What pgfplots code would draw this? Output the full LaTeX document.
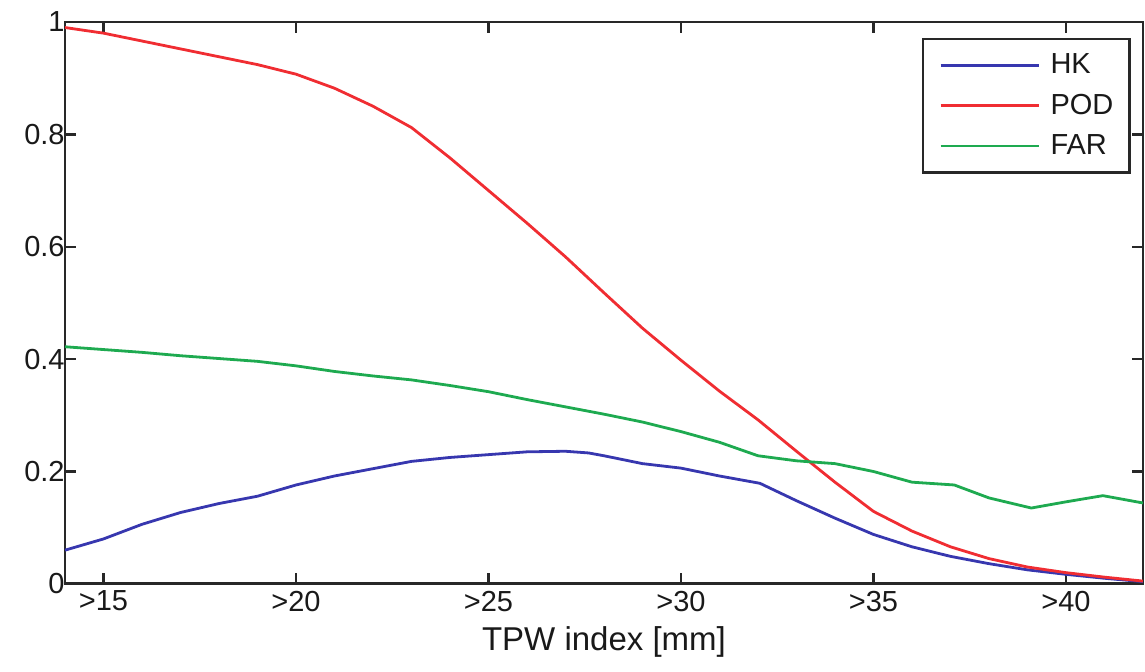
\documentclass[border=0pt]{standalone}
\usepackage{fontspec}
\setmainfont{Liberation Sans}
\usepackage{pgfplots}
\pgfplotsset{compat=1.18}
\definecolor{hkblue}{RGB}{55,55,175}
\definecolor{podred}{RGB}{240,45,50}
\definecolor{fargreen}{RGB}{30,170,80}
\definecolor{axgray}{RGB}{40,40,40}
\begin{document}
\begin{tikzpicture}
\begin{axis}[
  scale only axis,
  width=539pt, height=281pt,
  xmin=14, xmax=42, ymin=0, ymax=1,
  xtick={15,20,25,30,35,40},
  xticklabels={>15,>20,>25,>30,>35,>40},
  ytick={0,0.2,0.4,0.6,0.8,1},
  yticklabels={0,0.2,0.4,0.6,0.8,1},
  tick align=inside,
  major tick length=5.5pt,
  tick style={axgray, line width=1.2pt},
  axis line style={axgray, line width=1.4pt},
  tick label style={font=\fontsize{14.5}{17}\selectfont, inner sep=0pt, text=black!90},
  xticklabel style={yshift=-3.3pt},
  xlabel={TPW index [mm]},
  xlabel style={font=\fontsize{16.5}{19}\selectfont, inner sep=0pt, yshift=-7.5pt, text=black!90},
  clip=false,
  legend style={at={(0.9886,0.972)}, anchor=north east,
    draw=axgray, line width=1.3pt,
    inner xsep=8pt, inner ysep=7.5pt,
    nodes={inner sep=0pt, text=black!90},
    font=\fontsize{14.5}{17}\selectfont,
    row sep=8.6pt, column sep=5.3pt},
  legend cell align=left,
  legend image code/.code={\draw[#1] (0pt,0pt) -- (49pt,0pt);},
  every axis plot/.append style={line width=1.4pt},
]
\addplot[hkblue] coordinates {
(14,0.060) (15,0.080) (16,0.106) (17,0.127) (18,0.143) (19,0.156) (20,0.176)
(21,0.192) (22,0.205) (23,0.218) (24,0.225) (25,0.230) (26,0.235) (27,0.236)
(27.6,0.233) (28,0.228) (29,0.214) (30,0.206) (31,0.192) (32.05,0.179) (33,0.148)
(34,0.117) (35,0.088) (36,0.066) (37,0.049) (38,0.036) (39,0.025) (40,0.017)
(41,0.010) (42,0.004)
};
\addlegendentry{HK}
\addplot[podred] coordinates {
(14,0.990) (15,0.980) (16,0.966) (17,0.952) (18,0.938) (19,0.924) (20,0.907)
(21,0.882) (22,0.850) (23,0.812) (24,0.758) (25,0.700) (26,0.642) (27,0.582)
(28,0.518) (29,0.455) (30,0.398) (31,0.343) (32,0.292) (33,0.236) (34,0.181)
(35,0.129) (36,0.094) (37,0.066) (38,0.045) (39,0.030) (40,0.020) (41,0.012)
(42,0.005)
};
\addlegendentry{POD}
\addplot[fargreen] coordinates {
(14,0.422) (15,0.417) (16,0.412) (17,0.406) (18,0.401) (19,0.396) (20,0.388)
(21,0.378) (22,0.370) (23,0.363) (24,0.353) (25,0.342) (26,0.328) (27,0.315)
(28,0.302) (29,0.288) (30,0.271) (31,0.252) (32,0.228) (33,0.219) (34,0.214)
(35,0.200) (36,0.181) (37.1,0.176) (38,0.153) (39.1,0.135) (40,0.146)
(40.96,0.157) (42,0.144)
};
\addlegendentry{FAR}
\path (rel axis cs:-0.0603,-0.1566) rectangle (rel axis cs:1.0019,1.039);
\end{axis}
\end{tikzpicture}
\end{document}
